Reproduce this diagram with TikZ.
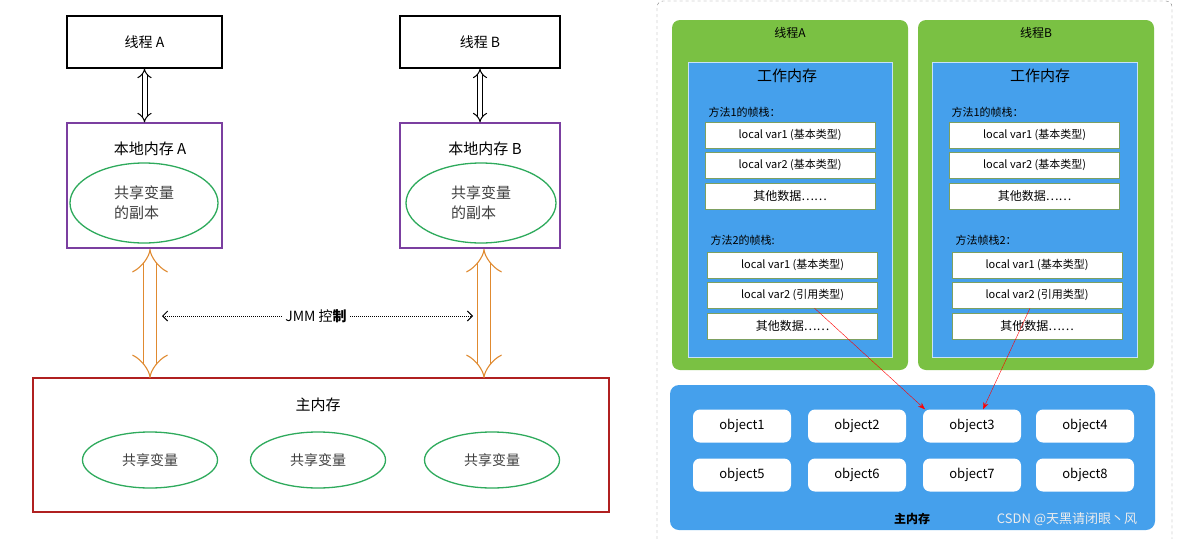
\documentclass[tikz,border=0pt]{standalone}
\usepackage{fontspec}
\setmainfont{Noto Sans CJK SC}
\usetikzlibrary{arrows.meta,shapes.geometric}
\definecolor{gr}{HTML}{7AC143}
\definecolor{bl}{HTML}{45A0EC}
\definecolor{pu}{HTML}{7B3FA0}
\definecolor{ogr}{HTML}{2EAA5C}
\definecolor{dred}{HTML}{B02020}
\definecolor{org}{HTML}{E08A30}
\tikzset{x=1pt,y=-1pt,
 ell/.style={ellipse,draw=ogr,line width=1.3pt,inner sep=0pt},
 wbox/.style={draw=gr!50!gray,fill=white,minimum width=170pt,minimum height=26pt,font=\fontsize{11}{13}\selectfont,inner sep=0pt},
 obj/.style={fill=white,rounded corners=7pt,minimum width=98pt,minimum height=33pt,font=\fontsize{13}{15}\selectfont,inner sep=0pt},
 fat/.style={double distance=5pt,line width=1.2pt,-{Implies},draw=#1},
}
\begin{document}
\begin{tikzpicture}
\useasboundingbox[fill=white] (0,0) rectangle (1191,538);
% left
\node[draw,line width=1.3pt,minimum width=155pt,minimum height=52pt,font=\fontsize{14}{16}\selectfont] (ta) at (144.5,42) {线程 A};
\node[draw,line width=1.3pt,minimum width=160pt,minimum height=52pt,font=\fontsize{14}{16}\selectfont] (tb) at (480,42) {线程 B};
\node[draw=pu,line width=1.3pt,minimum width=155pt,minimum height=125pt] (la) at (144.5,185.5) {};
\node[draw=pu,line width=1.3pt,minimum width=160pt,minimum height=125pt] (lb) at (480,185.5) {};
\node[font=\fontsize{15}{17}\selectfont] at (150,149) {本地内存 A};
\node[font=\fontsize{15}{17}\selectfont] at (485,149) {本地内存 B};
\node[ell,minimum width=148pt,minimum height=80pt,font=\fontsize{15}{20}\selectfont,text=black!75,align=left] (ea) at (144,203) {共享变量\\的副本};
\node[ell,minimum width=150pt,minimum height=80pt,font=\fontsize{15}{20}\selectfont,text=black!75,align=left] (eb) at (481,203) {共享变量\\的副本};
\draw[{Implies}-{Implies},double distance=4pt,line width=1pt] (ta.south) -- (la.north);
\draw[{Implies}-{Implies},double distance=4pt,line width=1pt] (tb.south) -- (lb.north);
\node[draw=dred,line width=1.3pt,minimum width=576pt,minimum height=134pt] (mm) at (321,445) {};
\node[font=\fontsize{15}{17}\selectfont] at (318,405) {主内存};
\foreach \x/\n in {150/m1,318/m2,492/m3}
 \node[ell,minimum width=135pt,minimum height=56pt,font=\fontsize{14}{16}\selectfont,text=black!75] (\n) at (\x,460) {共享变量};
\draw[{Implies[length=10pt]}-{Implies[length=10pt]},double distance=12pt,line width=1.1pt,draw=org] (150,249) -- (150,378);
\draw[{Implies[length=10pt]}-{Implies[length=10pt]},double distance=12pt,line width=1.1pt,draw=org] (484,249) -- (484,378);
\node[font=\fontsize{14}{16}\selectfont] (jmm) at (316,316) {JMM 控\textbf{制}};
\coordinate (jl) at (162,316); \coordinate (jr) at (473,316);
\draw[densely dotted,line width=1pt,-{Straight Barb[length=5pt]}] (jmm.west) -- (jl);
\draw[densely dotted,line width=1pt,-{Straight Barb[length=5pt]}] (jmm.east) -- (jr);
% right
\draw[dashed,gray,rounded corners=6pt] (657,545) -- (657,1) -- (1172,1) -- (1172,545);
\fill[gr,rounded corners=8pt] (672,20) rectangle (908,370);
\fill[gr,rounded corners=8pt] (918,20) rectangle (1154,370);
\node[font=\fontsize{12}{14}\selectfont] at (790,33) {线程A};
\node[font=\fontsize{12}{14}\selectfont] at (1036,33) {线程B};
\fill[bl,draw=white!70!bl] (688,62) rectangle (892,357);
\fill[bl,draw=white!70!bl] (932,62) rectangle (1137,357);
\node[font=\fontsize{15}{17}\selectfont] at (787,76) {工作内存};
\node[font=\fontsize{15}{17}\selectfont] at (1040,76) {工作内存};
\node[font=\fontsize{11}{13}\selectfont,anchor=west] at (705,112) {方法1的帧栈：};
\node[font=\fontsize{11}{13}\selectfont,anchor=west] at (948,112) {方法1的帧栈：};
\node[font=\fontsize{11}{13}\selectfont,anchor=west] at (707,240) {方法2的帧栈:};
\node[font=\fontsize{11}{13}\selectfont,anchor=west] at (952,240) {方法帧栈2：};
\node[wbox] (a1) at (790,135) {local var1 (基本类型)};
\node[wbox] (a2) at (790,165) {local var2 (基本类型)};
\node[wbox,font=\fontsize{12}{14}\selectfont] (a3) at (790,196) {其他数据……};
\node[wbox] (a4) at (792.5,265) {local var1 (基本类型)};
\node[wbox] (a5) at (792.5,295) {local var2 (引用类型)};
\node[wbox,font=\fontsize{12}{14}\selectfont] (a6) at (792.5,326) {其他数据……};
\node[wbox] (b1) at (1034.5,135) {local var1 (基本类型)};
\node[wbox] (b2) at (1034.5,165) {local var2 (基本类型)};
\node[wbox,font=\fontsize{12}{14}\selectfont] (b3) at (1034.5,196) {其他数据……};
\node[wbox] (b4) at (1037,265) {local var1 (基本类型)};
\node[wbox] (b5) at (1037,295) {local var2 (引用类型)};
\node[wbox,font=\fontsize{12}{14}\selectfont] (b6) at (1037,326) {其他数据……};
\fill[bl,rounded corners=9pt] (670,385) rectangle (1155,530);
\foreach \i/\x/\y in {1/742/426,2/857/426,3/972/426,4/1085/426,5/742/475,6/857/475,7/972/475,8/1085/475}
 \node[obj] (o\i) at (\x,\y) {object\i};
\node[font=\bfseries\fontsize{12}{14}\selectfont] at (912,519) {主内存};
\node[font=\fontsize{13}{15}\selectfont,text=white!85!gray] at (1067,519) {CSDN @天黑请闭眼丶风};
\draw[red,-{Stealth[length=7pt]}] ([xshift=22pt]a5.south) -- ([xshift=-47pt]o3.north);
\draw[red,-{Stealth[length=7pt]}] ([xshift=-7pt]b5.south) -- ([xshift=11pt]o3.north);
\end{tikzpicture}
\end{document}
